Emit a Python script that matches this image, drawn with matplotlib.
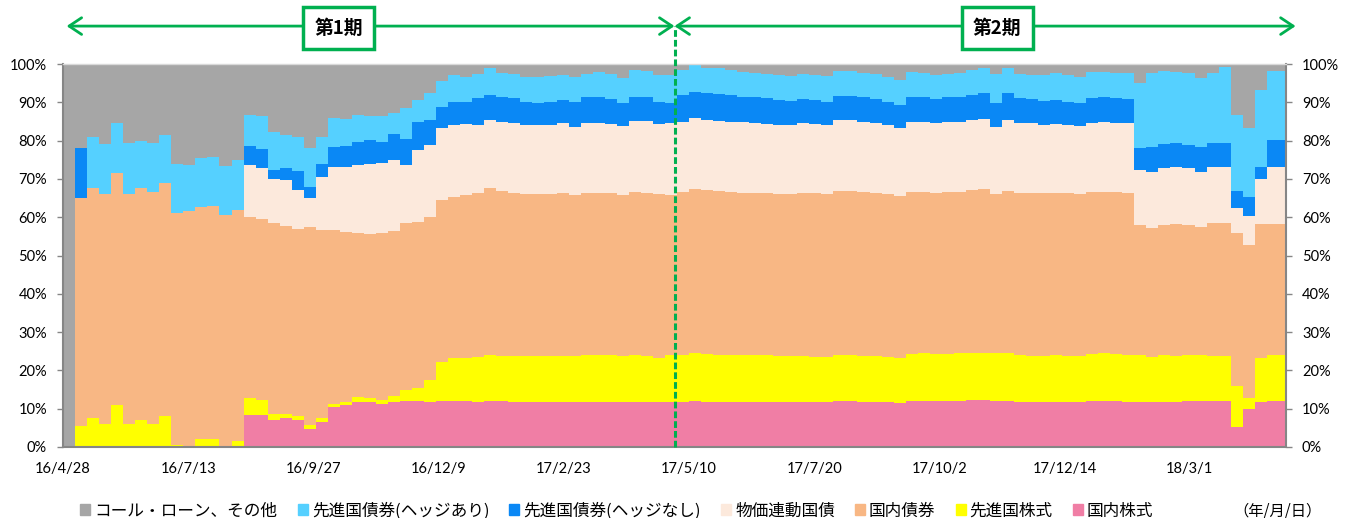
import numpy as np
import matplotlib
matplotlib.use('Agg')
import matplotlib.pyplot as plt
from matplotlib.patches import Patch
from matplotlib.transforms import blended_transform_factory

plt.rcParams['font.family'] = ['Noto Sans CJK JP', 'DejaVu Sans']

# one sample every 5 business days, 16/4/28 .. 18/4
STEP = 5
LAST_DAY = 508
SPLIT_DAY = 254      # start of period 2
TICK_EVERY = 52

tick_labels = ['16/4/28', '16/7/13', '16/9/27', '16/12/9', '17/2/23',
               '17/5/10', '17/7/20', '17/10/2', '17/12/14', '18/3/1']

# 国内株式
jp_equity = [0, 0, 0, 0, 0, 0, 0, 0, 0, 0,
             0, 0, 0, 0, 0, 8.4, 8.4, 7, 7.5, 7,
             4.7, 6.5, 10.5, 11, 11.8, 11.8, 11.2, 11.8, 12, 12.1,
             11.8, 12.1, 12.1, 12.1, 11.8, 12.1, 12.1, 11.8, 11.8, 11.8,
             11.8, 11.7, 11.7, 11.8, 11.8, 11.7, 11.7, 11.8, 11.8, 11.8,
             11.7, 11.8, 12.1, 11.8, 11.8, 11.8, 11.8, 11.8, 11.8, 11.8,
             11.8, 11.8, 11.7, 11.7, 12.1, 12.1, 11.8, 11.8, 11.7, 11.4,
             12.1, 12.1, 12.1, 12, 12.1, 12.3, 12.3, 12.1, 12.1, 11.8,
             11.8, 11.8, 11.8, 11.7, 11.7, 12.1, 12.1, 12.1, 11.8, 11.8,
             11.8, 11.8, 11.8, 11.9, 12.1, 12.1, 12.1, 5.3, 10, 11.8,
             12.1]
# 先進国株式
dev_equity = [0, 5.5, 7.5, 6, 11, 6, 7, 6, 8, 0.5,
              0, 2, 2, 0, 1.5, 4.3, 4, 1.5, 1.1, 1,
              1, 1, 0.8, 0.8, 1.2, 1.1, 1.2, 1.5, 3, 3.2,
              5.7, 10.2, 11.1, 11.1, 11.8, 11.9, 11.7, 12, 12, 12,
              12, 12.1, 12.1, 12.2, 12.2, 12.2, 12.1, 12.2, 12, 11.4,
              12.3, 12.2, 12.4, 12.5, 12.2, 12.2, 12.2, 12.1, 12.1, 12,
              12, 12, 11.9, 11.9, 11.9, 11.9, 12, 12, 11.9, 11.8,
              12.2, 12.4, 12.2, 12.3, 12.4, 12.2, 12.3, 12.4, 12.4, 12.2,
              12, 12, 12.2, 12.1, 12.1, 12.2, 12.4, 12.2, 12.2, 12.2,
              11.8, 12.2, 12, 12.1, 11.9, 11.7, 11.7, 10.5, 2.7, 11.4,
              11.9]
# 国内債券
jp_bond = [0, 59.5, 60, 60, 60.5, 60, 60.5, 60.5, 61, 60.5,
           61.5, 60.7, 61, 60.6, 60.5, 47.4, 47, 49.9, 49.2, 49,
           51.8, 49.2, 45.4, 44.4, 42.8, 42.7, 43.6, 43, 43.5, 43.5,
           42.6, 42.2, 42.2, 42.6, 42.6, 43.5, 43, 42.6, 42.3, 42.2,
           42.3, 42.4, 42, 42.2, 42.4, 42.3, 42, 42.7, 42.6, 42.9,
           41.8, 42.7, 42.9, 42.8, 42.8, 42.7, 42.4, 42.3, 42.3, 42.3,
           42.3, 42.6, 42.6, 42.5, 42.9, 42.9, 42.9, 42.4, 42.5, 42.3,
           42.4, 42.2, 41.9, 42.3, 42.2, 42.6, 42.7, 41.6, 42.4, 42.4,
           42.4, 42.4, 42.4, 42.4, 42.3, 42.4, 42.2, 42.2, 42.4, 34,
           33.5, 34, 34.4, 34, 33.5, 34.6, 34.6, 40, 40, 34.9,
           34.1]
# 物価連動国債
jgbi = [0, 0, 0, 0, 0, 0, 0, 0, 0, 0,
        0, 0, 0, 0, 0, 13.5, 13.5, 11.6, 11.9, 10,
        7.5, 13.8, 16.3, 17, 17.8, 18.3, 18.1, 18.7, 15, 18.7,
        18.8, 18.7, 18.7, 18.5, 17.9, 17.9, 18.1, 18.1, 18, 18.1,
        18, 18.3, 17.8, 18.3, 18.3, 18.1, 18, 18.5, 18.8, 18.2,
        18.7, 18.2, 18.4, 18.3, 18.3, 18.2, 18.4, 18.3, 18.1, 18,
        18, 18.1, 18.1, 18, 18.5, 18.5, 18.2, 18.3, 18, 17.7,
        18.2, 18.2, 18.3, 18.2, 18.2, 18.3, 18.3, 17.5, 18.5, 18.3,
        18.3, 17.9, 17.9, 17.9, 17.7, 18, 18.2, 18.2, 18.1, 14.3,
        14.8, 14.8, 14.8, 14.8, 14.4, 14.6, 14.8, 6.5, 7.5, 12,
        15.1]
# 先進国債券(ヘッジなし)
dev_bond_unhedged = [0, 13, 0, 0, 0, 0, 0, 0, 0, 0,
                     0, 0, 0, 0, 0, 5, 5, 2.3, 3.1, 5,
                     3, 3.5, 5.4, 5.4, 6.1, 6.3, 5.6, 6.6, 7, 7.4,
                     6.5, 5.7, 6.1, 5.9, 6.9, 6.5, 6.4, 6.5, 6.1, 5.6,
                     6.1, 6.1, 6.6, 6.8, 6.6, 6.5, 5.9, 6.3, 6.1, 5.9,
                     5.2, 7, 7, 6.9, 7, 7, 6.7, 6.8, 6.7, 6.5,
                     6.3, 6.3, 6.3, 6.1, 6.2, 6.2, 6.4, 6.3, 6.1, 6.1,
                     6.6, 6.6, 6.3, 6.5, 6.6, 6.5, 6.7, 6.1, 6.9, 6.3,
                     6.3, 6.3, 6.3, 6.1, 5.9, 6.3, 6.4, 6.3, 6.3, 5.7,
                     6.3, 6.3, 6.3, 6.1, 6.5, 6.3, 6.3, 4.5, 5, 3,
                     7]
# 先進国債券(ヘッジあり)
dev_bond_hedged = [0, 0, 13.5, 13, 13, 13.3, 12.5, 13, 12.5, 13,
                   12, 12.8, 12.8, 12.8, 13, 8.1, 8.5, 10, 8.7, 9,
                   10, 7, 7.4, 7, 7, 6.2, 6.6, 5.6, 8, 5.7,
                   6.9, 6.7, 6.9, 6.5, 6.5, 7, 6.4, 6.5, 6.5, 6.8,
                   6.7, 6.5, 6.5, 6.2, 6.5, 6.6, 6.6, 6.9, 6.9, 6.9,
                   7.4, 6.5, 6.9, 6.6, 6.8, 6.5, 6.5, 6.4, 6.5, 6.5,
                   6.4, 6.6, 6.5, 6.7, 6.7, 6.7, 6.4, 6.6, 6.5, 6.5,
                   6.5, 6.2, 6.3, 6.2, 6.2, 6.5, 6.6, 7.8, 6.6, 6.4,
                   6.3, 6.7, 7, 6.9, 7, 7, 6.7, 6.7, 6.8, 17,
                   19.4, 19.2, 18.7, 18.7, 17.9, 18.4, 19.8, 20, 18, 20,
                   18.1]

layers = [jp_equity, dev_equity, jp_bond, jgbi, dev_bond_unhedged, dev_bond_hedged]
# コール・ローン、その他 = remainder up to 100%
cash = 100 - np.sum(np.array(layers), axis=0)
layers.append(cash)

names = ['国内株式', '先進国株式', '国内債券', '物価連動国債',
         '先進国債券(ヘッジなし)', '先進国債券(ヘッジあり)', 'コール・ローン、その他']
colors = ['#F07EA5', '#FFFF00', '#F8B784', '#FCE9DC',
          '#0A88F5', '#55D0FF', '#A6A6A6']
GREEN = '#00B050'

n = len(jp_equity)
x = np.append(np.arange(n) * STEP, LAST_DAY)
ys = [np.append(v, v[-1]) for v in layers]

fig = plt.figure(figsize=(13.5, 5.18), dpi=100)
ax = fig.add_axes([63 / 1350, 71 / 518, 1223 / 1350, 383 / 518])

ax.stackplot(x, *ys, colors=colors, step='post', linewidth=0, antialiased=False)

ax.set_xlim(0, LAST_DAY)
ax.set_ylim(0, 100)

ax.set_yticks(np.arange(0, 101, 10))
ax.set_yticklabels([f'{v}%' for v in range(0, 101, 10)], family='Lato', fontsize=10.5)
ax.tick_params(axis='y', left=True, right=True, labelleft=True, labelright=True,
               direction='out', length=4.5, width=1, color='#868686', pad=7)
ax.set_xticks(np.arange(len(tick_labels)) * TICK_EVERY)
ax.set_xticklabels(tick_labels, family='Lato', fontsize=10.5)
ax.tick_params(axis='x', length=0, pad=11)

for side in ['left', 'right', 'bottom']:
    ax.spines[side].set_color('#868686')
    ax.spines[side].set_linewidth(1.5)
ax.spines['top'].set_color('#D9D9D9')
ax.spines['top'].set_linewidth(1)

# period markers
trans = blended_transform_factory(ax.transData, ax.transAxes)
arrow_y = 1.099
arrow = dict(arrowstyle='<->,head_length=0.45,head_width=0.3', color=GREEN, lw=2,
             mutation_scale=20, shrinkA=0, shrinkB=0)
ax.annotate('', xy=(1.5, arrow_y), xytext=(SPLIT_DAY, arrow_y), xycoords=trans,
            textcoords=trans, arrowprops=arrow, annotation_clip=False)
ax.annotate('', xy=(512, arrow_y), xytext=(SPLIT_DAY, arrow_y), xycoords=trans,
            textcoords=trans, arrowprops=arrow, annotation_clip=False)
ax.plot([SPLIT_DAY, SPLIT_DAY], [0, arrow_y], transform=trans, color=GREEN, lw=2.2,
        dashes=(2.2, 1.0), clip_on=False, zorder=4)
for xc, label in [(114.5, '第1期'), (388, '第2期')]:
    ax.text(xc, 1.094, label, transform=trans, ha='center', va='center',
            fontsize=13.5, fontweight='bold', zorder=6, clip_on=False,
            bbox=dict(boxstyle='square,pad=0.6', fc='white', ec=GREEN, lw=2.5))

handles = [Patch(color=c) for c in colors[::-1]]
fig.legend(handles, names[::-1], loc='center', bbox_to_anchor=(0.457, 0.0135),
           ncol=7, frameon=False, fontsize=12, handlelength=0.6, handleheight=0.6,
           handletextpad=0.25, columnspacing=1.2, borderaxespad=0, borderpad=0)
fig.text(1322 / 1350, 0.0135, '（年/月/日）', ha='right', va='center', fontsize=11)

fig.savefig('out.png', dpi=100)
